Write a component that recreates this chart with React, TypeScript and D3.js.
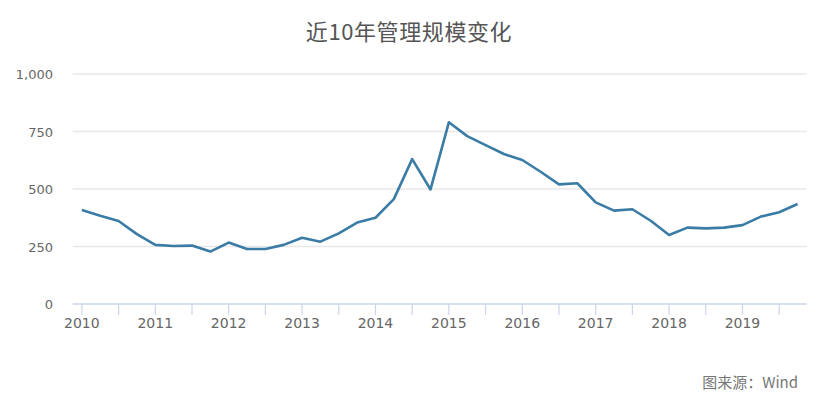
import React, { useEffect, useRef } from 'react';
import * as d3 from 'd3';

// quarterly points, 2010Q1 .. 2019Q4
const quarters: number[] = d3.range(40).map(i => 2010 + i * 0.25);
const scale: number[] = [
  409, 384, 361, 304,
  257, 252, 254, 228,
  267, 239, 239, 257,
  288, 271, 307, 354,
  375, 456, 630, 498,
  790, 730, 691, 652,
  626, 575, 520, 525,
  442, 406, 412, 362,
  300, 332, 329, 332,
  343, 380, 399, 435,
];
const yTicks = [0, 250, 500, 750, 1000];
const yearTicks = d3.range(2010, 2020);
const halfTicks = d3.range(2010, 2020, 0.5);

const W = 828;
const H = 405;

export default function App() {
  const svgRef = useRef<SVGSVGElement>(null);

  useEffect(() => {
    if (!svgRef.current) return;
    const svg = d3.select(svgRef.current);
    svg.selectAll('*').remove();

    const x = d3.scaleLinear().domain([2009.875, 2019.875]).range([72.7, 806.7]);
    const y = d3.scaleLinear().domain([0, 1000]).range([304, 74]);

    // title
    svg.append('text')
      .attr('x', 409)
      .attr('y', 40)
      .attr('text-anchor', 'middle')
      .attr('font-family', '"Noto Sans CJK SC", sans-serif')
      .attr('font-size', 22)
      .attr('letter-spacing', 0.6)
      .attr('fill', '#555')
      .text('近10年管理规模变化');

    // grid
    svg.append('g')
      .selectAll('line')
      .data(yTicks.filter(d => d > 0))
      .enter()
      .append('line')
      .attr('x1', x.range()[0])
      .attr('x2', x.range()[1])
      .attr('y1', d => y(d))
      .attr('y2', d => y(d))
      .attr('stroke', '#e8e8e8')
      .attr('stroke-width', 1.5);

    // y labels
    svg.append('g')
      .selectAll('text')
      .data(yTicks)
      .enter()
      .append('text')
      .attr('x', 53)
      .attr('y', d => y(d) + 5)
      .attr('text-anchor', 'end')
      .attr('font-family', '"DejaVu Sans", sans-serif')
      .attr('font-size', 13)
      .attr('fill', '#666')
      .text(d => d3.format(',')(d));

    // x axis
    svg.append('line')
      .attr('x1', x.range()[0])
      .attr('x2', x.range()[1])
      .attr('y1', y(0))
      .attr('y2', y(0))
      .attr('stroke', '#ccd6eb')
      .attr('stroke-width', 1.5);

    svg.append('g')
      .selectAll('line')
      .data(halfTicks)
      .enter()
      .append('line')
      .attr('x1', d => x(d))
      .attr('x2', d => x(d))
      .attr('y1', y(0))
      .attr('y2', y(0) + 11)
      .attr('stroke', '#ccd6eb')
      .attr('stroke-width', 1.2);

    svg.append('g')
      .selectAll('text')
      .data(yearTicks)
      .enter()
      .append('text')
      .attr('x', d => x(d))
      .attr('y', 328)
      .attr('text-anchor', 'middle')
      .attr('font-family', '"DejaVu Sans", sans-serif')
      .attr('font-size', 14)
      .attr('fill', '#666')
      .text(d => String(d));

    // line
    const line = d3.line<number>()
      .x((_, i) => x(quarters[i]))
      .y(d => y(d));

    svg.append('path')
      .datum(scale)
      .attr('d', line)
      .attr('fill', 'none')
      .attr('stroke', '#3a7ca5')
      .attr('stroke-width', 2.6)
      .attr('stroke-linejoin', 'round');

    // source
    svg.append('text')
      .attr('x', 798)
      .attr('y', 388)
      .attr('text-anchor', 'end')
      .attr('font-family', '"Noto Sans CJK SC", sans-serif')
      .attr('font-size', 15)
      .attr('fill', '#777')
      .text('图来源：Wind');
  }, []);

  return (
    <>
      <style>{'body{margin:0;background:#fff}'}</style>
      <svg ref={svgRef} width={W} height={H} style={{ display: 'block' }} />
    </>
  );
}
